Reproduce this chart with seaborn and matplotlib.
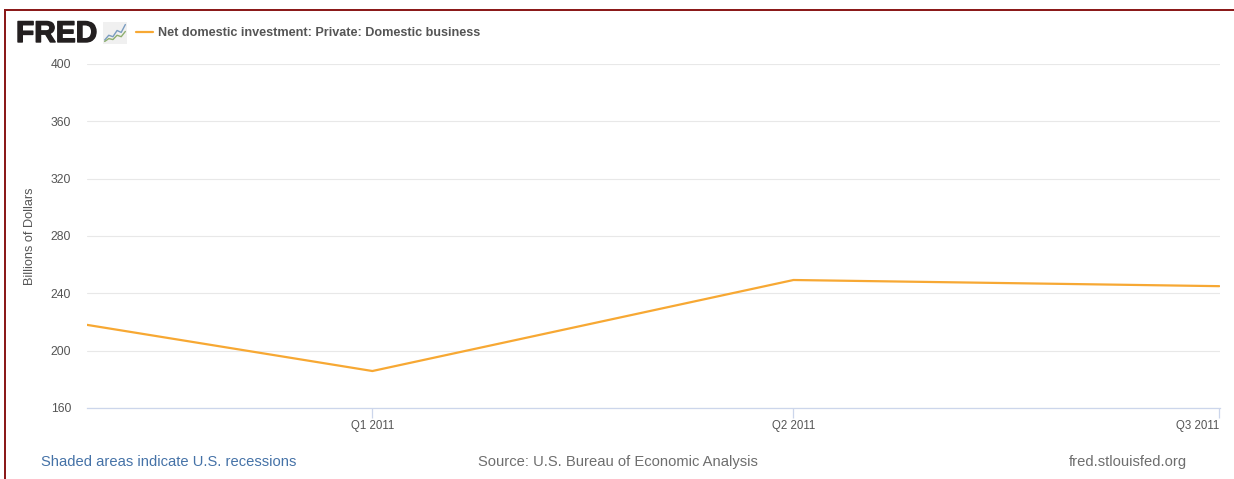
import matplotlib
matplotlib.use("Agg")
import matplotlib.pyplot as plt
import matplotlib.dates as mdates
import matplotlib.patheffects as pe
from matplotlib.lines import Line2D
from matplotlib.patches import Rectangle
import pandas as pd
import seaborn as sns

# Series values, billions of dollars
period_start = ["2010-11-01", "2011-01-01", "2011-04-01", "2011-07-01"]
investment = [218, 185.8, 249.3, 245]
series_name = "Net domestic investment: Private: Domestic business"

y_ticks = [160, 200, 240, 280, 320, 360, 400]
x_tick_dates = ["2011-01-01", "2011-04-01", "2011-07-01"]
x_tick_labels = ["Q1 2011", "Q2 2011", "Q3 2011"]

# Sparkline values for the small logo badge
badge_blue = [1, 3, 2.4, 5, 4.2, 7.5]
badge_green = [0.4, 1.6, 1.2, 3, 2.4, 4.6]

W, H = 1234, 479
sns.set_theme(style="white")
plt.rcParams["font.family"] = ["Liberation Sans", "DejaVu Sans"]

fig = plt.figure(figsize=(W / 100, H / 100), dpi=100, facecolor="white")


def fx(px):
    return px / W


def fy(px):
    return 1 - px / H


ax = fig.add_axes([fx(87), fy(408), fx(1220 - 87), fy(64) - fy(408)])
data = pd.DataFrame({"date": pd.to_datetime(period_start), "value": investment})
sns.lineplot(data=data, x="date", y="value", ax=ax, color="#F7A833", linewidth=1.6,
             zorder=3, legend=False)

ax.set_xlim(pd.Timestamp(period_start[0]), pd.Timestamp("2011-07-01") + pd.Timedelta(hours=4))
ax.set_ylim(y_ticks[0], y_ticks[-1])
ax.set_yticks(y_ticks)
ax.grid(axis="y", color="#E8E8E8", linewidth=0.8)
ax.grid(axis="x", visible=False)
ax.set_xlabel("")
ax.set_ylabel("Billions of Dollars", fontsize=9.2, color="#555555", labelpad=0)
ax.yaxis.set_label_coords((36 - 87) / (1220 - 87), 0.5)
for side in ("top", "left", "right"):
    ax.spines[side].set_visible(False)
ax.spines["bottom"].set_color("#CCD6EB")
ax.spines["bottom"].set_linewidth(0.9)

ax.tick_params(axis="y", length=0, pad=11.5, labelsize=8.7, labelcolor="#555555")
ax.set_xticks(mdates.date2num(pd.to_datetime(x_tick_dates)))
ax.set_xticklabels(x_tick_labels)
ax.tick_params(axis="x", length=7.5, width=0.9, color="#CCD6EB", pad=1,
               labelsize=8.3, labelcolor="#555555", bottom=True)
ax.xaxis.get_majorticklabels()[-1].set_horizontalalignment("right")

# Header: wordmark, badge and legend entry
fig.text(fx(16), fy(34), "FRED", fontsize=21.5, fontweight="bold", color="#231F20",
         va="center", ha="left",
         path_effects=[pe.withStroke(linewidth=1.0, foreground="#231F20")])
badge = fig.add_axes([fx(103), fy(44), fx(24), fy(22) - fy(44)], facecolor="#F0F0F0")
badge.plot(badge_blue, color="#7A9CC0", linewidth=1)
badge.plot(badge_green, color="#8DAE6E", linewidth=1)
badge.set_xticks([])
badge.set_yticks([])
badge.margins(0.08, 0.15)
for spine in badge.spines.values():
    spine.set_visible(False)

fig.add_artist(Line2D([fx(136), fx(153)], [fy(32), fy(32)], color="#F7A833", linewidth=1.6))
fig.text(fx(158), fy(32.5), series_name, fontsize=9.13, fontweight="bold", color="#555555",
         va="center", ha="left")

# Footer notes
fig.text(fx(41), fy(462), "Shaded areas indicate U.S. recessions", fontsize=10.67,
         color="#4572A7", va="center", ha="left")
fig.text(fx(618), fy(462), "Source: U.S. Bureau of Economic Analysis", fontsize=10.67,
         color="#6E6E6E", va="center", ha="center")
fig.text(fx(1128), fy(462), "fred.stlouisfed.org", fontsize=10.67,
         color="#6E6E6E", va="center", ha="center")

# Dark red frame along the top and left edges
frame = "#8B1A1A"
fig.add_artist(Rectangle((fx(4), fy(11)), fx(W - 4), 2 / H, transform=fig.transFigure,
                         facecolor=frame, edgecolor="none"))
fig.add_artist(Rectangle((fx(4), 0), 2 / W, fy(11), transform=fig.transFigure,
                         facecolor=frame, edgecolor="none"))

fig.savefig("out.png", dpi=100, facecolor="white")
